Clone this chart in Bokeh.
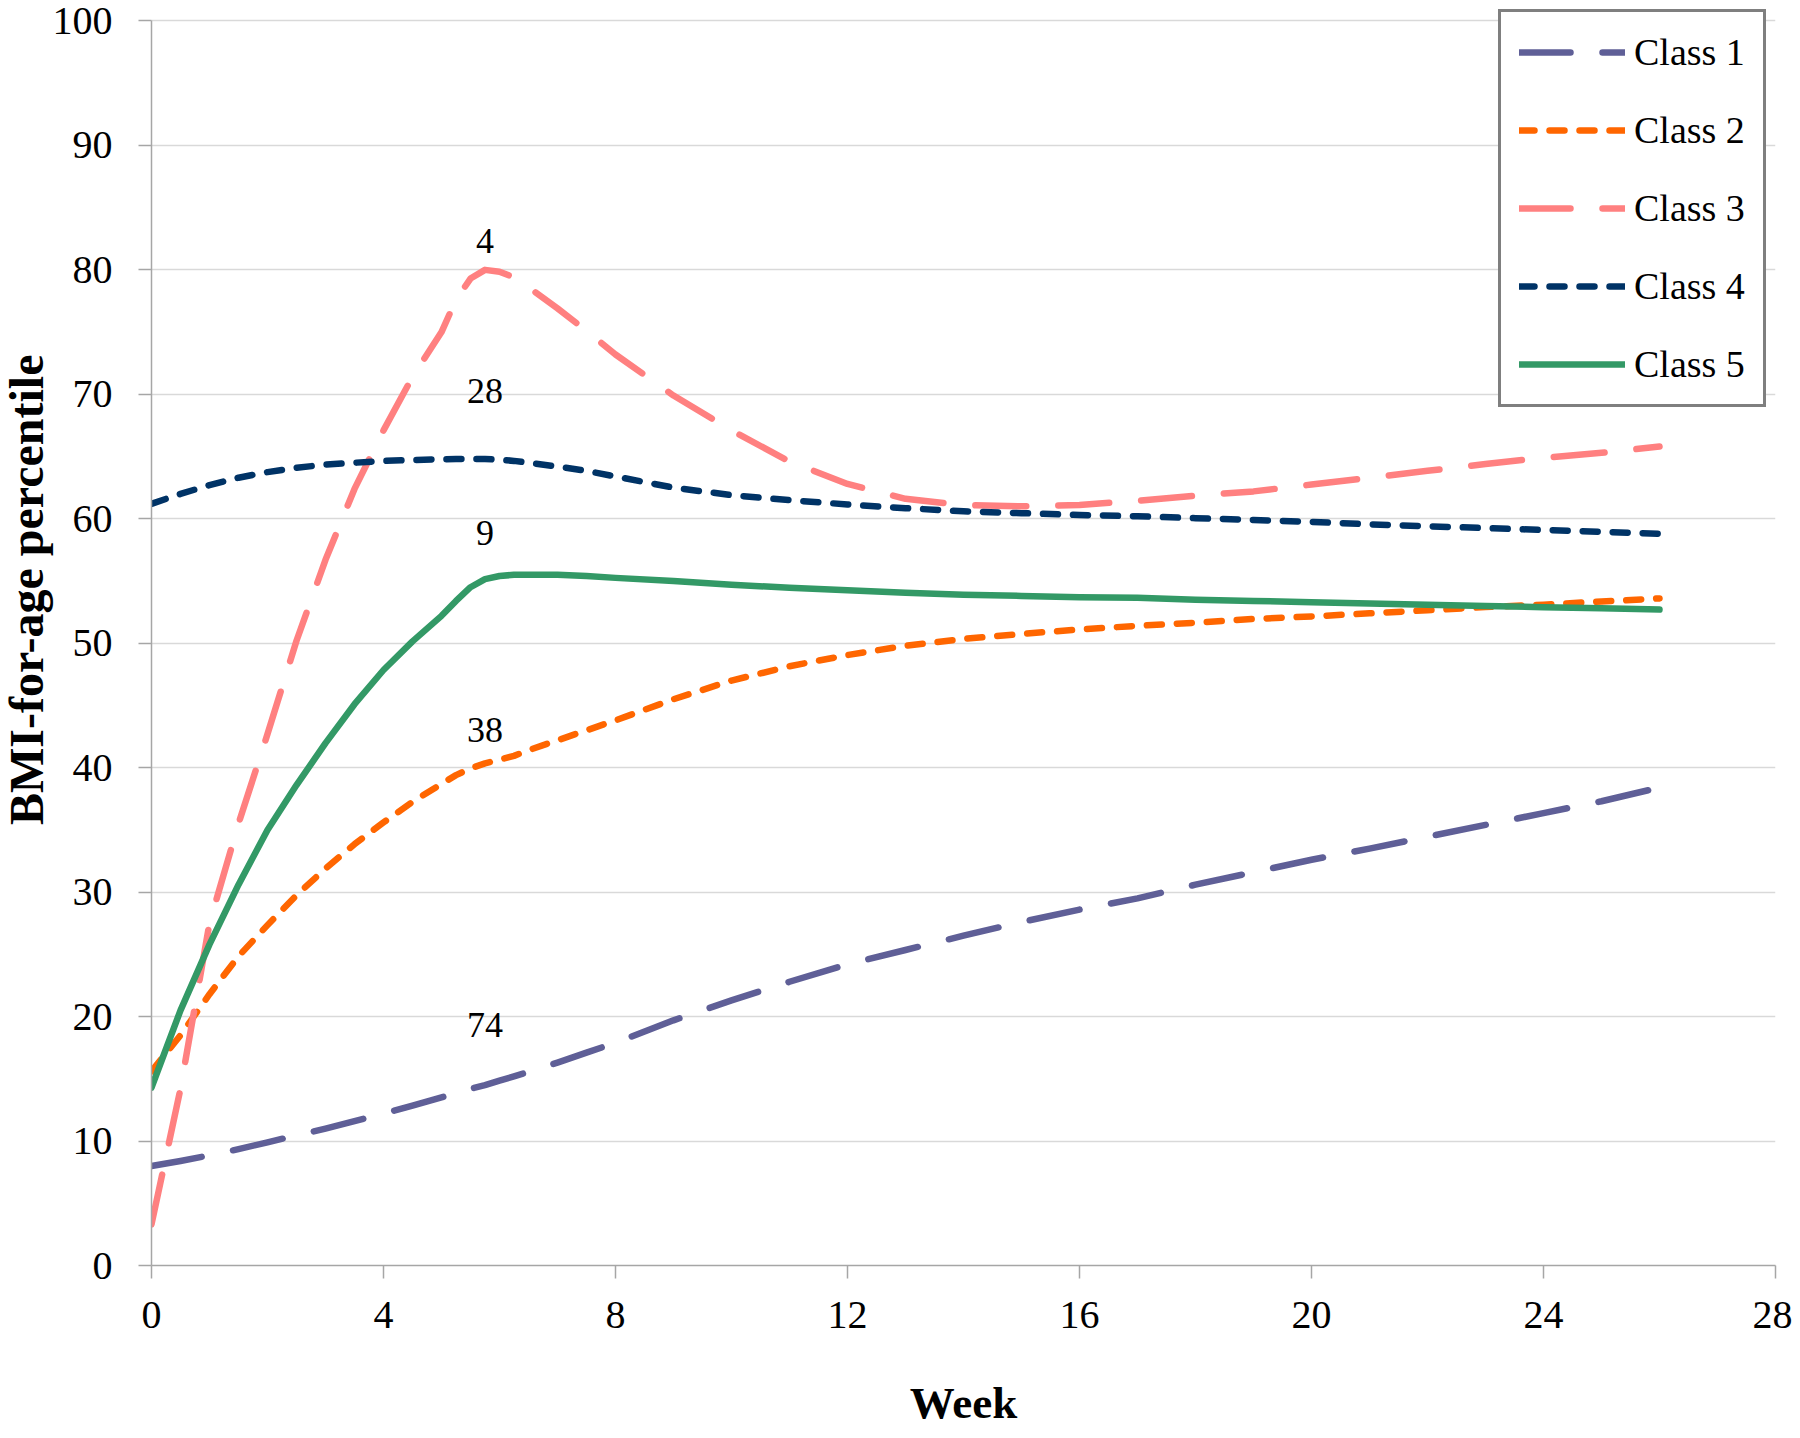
from bokeh.plotting import figure
from bokeh.models import Range1d, FixedTicker, Legend, LegendItem, ColumnDataSource, Title
from bokeh.embed import file_html
from bokeh.resources import INLINE
from bokeh.core.properties import value

# ---------------- data ----------------
weeks = [0, 0.5, 1, 1.5, 2, 2.5, 3, 3.5, 4, 4.5, 5, 5.25, 5.5, 5.75, 6, 6.25, 6.5, 7, 7.5, 8,
         9, 10, 11, 12, 13, 14, 15, 16, 17, 18, 19, 20, 21, 22, 23, 24, 25, 26]

class1 = [8.0, 8.4, 8.85, 9.35, 9.9, 10.45, 11.0, 11.6, 12.2, 12.85, 13.5, 13.85, 14.2, 14.5, 14.85, 15.2, 15.55, 16.3, 17.1, 17.9,
          19.7, 21.3, 22.8, 24.2, 25.35, 26.5, 27.6, 28.6, 29.5, 30.6, 31.6, 32.6, 33.5, 34.45, 35.4, 36.35, 37.3, 38.4]

class2 = [15.6, 18.5, 21.8, 24.85, 27.35, 29.75, 31.9, 33.85, 35.6, 37.25, 38.7, 39.4, 39.95, 40.35, 40.65, 40.95, 41.4, 42.2, 43.0, 43.8,
          45.5, 47.0, 48.15, 49.05, 49.8, 50.35, 50.75, 51.1, 51.4, 51.65, 51.95, 52.15, 52.4, 52.65, 52.9, 53.1, 53.35, 53.6]

class3 = [3.3, 14.2, 27.5, 35.5, 42.7, 50.2, 56.7, 62.4, 67.1, 71.4, 75.0, 77.6, 79.3, 80.0, 79.85, 79.4, 78.6, 76.9, 75.1, 73.2,
          69.9, 67.1, 64.6, 62.8, 61.6, 61.1, 61.0, 61.1, 61.45, 61.85, 62.2, 62.75, 63.3, 63.85, 64.4, 64.9, 65.3, 65.8]

class4 = [61.2, 62.0, 62.7, 63.3, 63.75, 64.1, 64.35, 64.5, 64.65, 64.72, 64.78, 64.8, 64.8, 64.8, 64.75, 64.65, 64.5, 64.2, 63.85, 63.4,
          62.5, 61.9, 61.5, 61.15, 60.85, 60.6, 60.45, 60.3, 60.2, 60.05, 59.9, 59.75, 59.55, 59.4, 59.25, 59.1, 58.95, 58.8]

class5 = [14.3, 20.5, 25.8, 30.6, 35.0, 38.6, 41.97, 45.1, 47.85, 50.15, 52.2, 53.4, 54.5, 55.15, 55.4, 55.5, 55.5, 55.5, 55.4, 55.25,
          55.0, 54.7, 54.45, 54.25, 54.05, 53.9, 53.8, 53.7, 53.65, 53.5, 53.4, 53.3, 53.2, 53.1, 53.0, 52.9, 52.8, 52.7]

series_names = ["Class 1", "Class 2", "Class 3", "Class 4", "Class 5"]

# class sizes written above the curves
n_text = ["4", "28", "9", "38", "74"]
n_week = [5.75, 5.75, 5.75, 5.75, 5.75]
n_level = [82.3, 70.25, 58.85, 43.0, 19.3]

x_ticks = [0, 4, 8, 12, 16, 20, 24, 28]
y_ticks = [0, 10, 20, 30, 40, 50, 60, 70, 80, 90, 100]

# ---------------- styles ----------------
FONT = "Liberation Serif"
styles = [
    dict(color="#5F5F97", dash="51 32"),
    dict(color="#FF6600", dash="15 15"),
    dict(color="#FF8080", dash="51 32"),
    dict(color="#003366", dash="15 15"),
    dict(color="#339966", dash="solid"),
]

p = figure(width=1792, height=1430, output_backend="svg", toolbar_location=None,
           x_range=Range1d(0, 28), y_range=Range1d(0, 101.08),
           min_border_left=151, min_border_right=17, min_border_top=7, min_border_bottom=164)
p.outline_line_color = None
p.background_fill_color = "white"
p.border_fill_color = "white"

p.xgrid.grid_line_color = None
p.ygrid.grid_line_color = "#d9d9d9"
p.ygrid.grid_line_width = 1.5
p.ygrid.ticker = FixedTicker(ticks=y_ticks)

p.xaxis.ticker = FixedTicker(ticks=x_ticks)
p.yaxis.ticker = FixedTicker(ticks=y_ticks)
p.yaxis.bounds = (0, 100)
for ax in (p.xaxis, p.yaxis):
    ax.axis_line_color = "#a6a6a6"
    ax.axis_line_width = 1.5
    ax.major_tick_line_color = "#a6a6a6"
    ax.major_tick_line_width = 1.5
    ax.major_tick_out = 13
    ax.major_tick_in = 0
    ax.minor_tick_line_color = None
    ax.major_label_text_font = FONT
    ax.major_label_text_font_size = "40px"
    ax.major_label_text_color = "black"

p.xaxis.axis_label = "Week"
p.xaxis.axis_label_text_font = FONT
p.xaxis.axis_label_text_font_style = "bold"
p.xaxis.axis_label_text_color = "black"
p.xaxis.axis_label_text_font_size = "45px"
p.xaxis.major_label_standoff = 23
p.xaxis.axis_label_standoff = 47

p.yaxis.major_label_standoff = 26

ytitle = Title(text="BMI-for-age percentile", align="right", offset=347, standoff=-10,
               vertical_align="top",
               text_font=FONT, text_font_style="bold", text_font_size="48px", text_color="black")
p.add_layout(ytitle, "left")

src = ColumnDataSource(dict(week=weeks, c1=class1, c2=class2, c3=class3, c4=class4, c5=class5))
renderers = []
for key, st in zip(["c1", "c2", "c3", "c4", "c5"], styles):
    r = p.line("week", key, source=src, line_color=st["color"], line_width=6.5,
               line_dash=st["dash"], line_cap="round", line_join="round")
    renderers.append(r)

p.text(x=n_week, y=n_level, text=n_text, text_align="center", text_baseline="middle",
       text_font=value(FONT), text_font_size="36px", text_color="black")

legend = Legend(items=[LegendItem(label=n, renderers=[r]) for n, r in zip(series_names, renderers)],
                location=(1347, 858), orientation="vertical",
                label_text_font=FONT, label_text_font_size="38px", label_text_color="black",
                glyph_width=106, glyph_height=44, label_height=44, label_standoff=9,
                padding=18, spacing=34, margin=0,
                border_line_color="black", border_line_width=3,
                background_fill_color="white", background_fill_alpha=1.0)
p.add_layout(legend)

open("out.html", "w").write(file_html(p, INLINE))
